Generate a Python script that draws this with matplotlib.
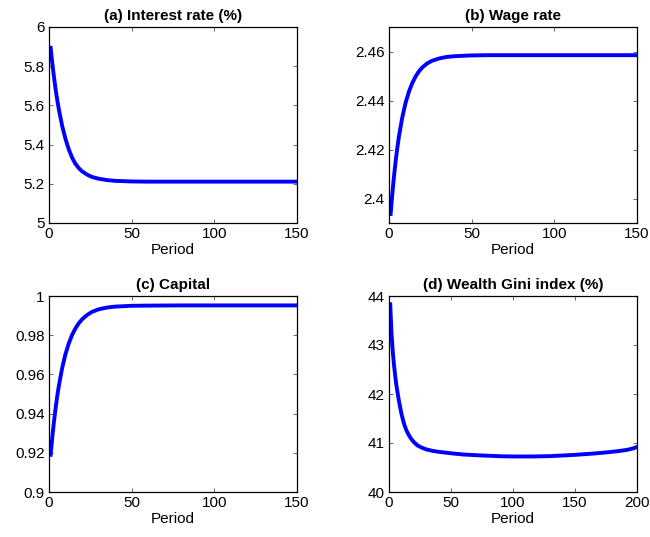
import matplotlib
matplotlib.use('Agg')
import matplotlib.pyplot as plt
from matplotlib.ticker import FuncFormatter
import numpy as np

t_short = [1, 2, 3, 4, 5, 6, 8, 10, 12, 14, 16, 18, 20, 23, 26, 30, 35, 40,
           50, 60, 80, 100, 120, 150]

interest = [5.894, 5.815, 5.745, 5.682, 5.627, 5.578, 5.494, 5.428, 5.375,
            5.333, 5.302, 5.280, 5.264, 5.247, 5.235, 5.226, 5.219, 5.215,
            5.212, 5.211, 5.211, 5.211, 5.211, 5.211]

wage = [2.3937, 2.4018, 2.4089, 2.4151, 2.4205, 2.4253, 2.4330, 2.4390,
        2.4435, 2.4470, 2.4497, 2.4518, 2.4534, 2.4551, 2.4562, 2.4571,
        2.4578, 2.4581, 2.4584, 2.4585, 2.4585, 2.4585, 2.4585, 2.4585]

capital = [0.9190, 0.9280, 0.9359, 0.9428, 0.9490, 0.9544, 0.9634, 0.9705,
           0.9759, 0.9802, 0.9835, 0.9861, 0.9881, 0.9903, 0.9919, 0.9932,
           0.9941, 0.9946, 0.9950, 0.9951, 0.9952, 0.9952, 0.9952, 0.9952]

t_gini = [1, 2, 3, 4, 5, 6, 8, 10, 12, 14, 16, 18, 20, 23, 26, 30, 35, 40,
          50, 60, 75, 90, 100, 115, 130, 150, 165, 176, 185, 192, 197, 200]
gini = [43.83, 43.25, 42.88, 42.60, 42.37, 42.17, 41.86, 41.60, 41.40, 41.26,
        41.16, 41.08, 41.02, 40.95, 40.91, 40.87, 40.84, 40.82, 40.79, 40.765,
        40.745, 40.73, 40.725, 40.725, 40.732, 40.758, 40.785, 40.81, 40.835,
        40.86, 40.89, 40.92]

plt.rcParams['font.family'] = ['Liberation Sans', 'DejaVu Sans']

fig = plt.figure(figsize=(6.5, 5.37), dpi=100, facecolor='white')

W = 248 / 650.
H = 196 / 537.
panels = [
    # left, bottom, title, x, y, xlim, ylim, yticks
    (49 / 650., 1 - 223 / 537., '(a) Interest rate (%)', t_short, interest,
     (0, 150), (5, 6), [5, 5.2, 5.4, 5.6, 5.8, 6]),
    (389 / 650., 1 - 223 / 537., '(b) Wage rate', t_short, wage,
     (0, 150), (2.39, 2.47), [2.4, 2.42, 2.44, 2.46]),
    (49 / 650., 1 - 492 / 537., '(c) Capital', t_short, capital,
     (0, 150), (0.9, 1.0), [0.9, 0.92, 0.94, 0.96, 0.98, 1.0]),
    (389 / 650., 1 - 492 / 537., '(d) Wealth Gini index (%)', t_gini, gini,
     (0, 200), (40, 44), [40, 41, 42, 43, 44]),
]

fmt = FuncFormatter(lambda v, p: ('%.4f' % v).rstrip('0').rstrip('.'))

for left, bottom, title, x, y, xl, yl, yt in panels:
    ax = fig.add_axes([left, bottom, W, H])
    ax.plot(x, y, color=(0, 0, 1), lw=2.8)
    ax.set_xlim(*xl)
    ax.set_ylim(*yl)
    ax.set_xticks(np.arange(xl[0], xl[1] + 1, 50))
    ax.set_yticks(yt)
    ax.yaxis.set_major_formatter(fmt)
    ax.tick_params(direction='in', length=3, width=0.6, top=True, right=True,
                   labelsize=11, pad=3, color='0.3')
    for s in ax.spines.values():
        s.set_linewidth(0.9)
    ax.set_title(title, fontsize=11, fontweight='bold', pad=5)
    ax.set_xlabel('Period', fontsize=11, labelpad=1)

fig.savefig('out.png', dpi=100, facecolor='white')
